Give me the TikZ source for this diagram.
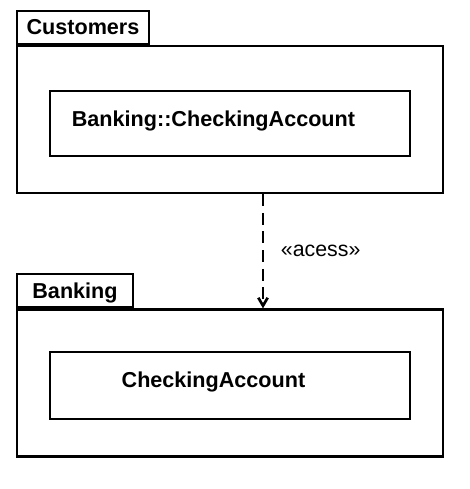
\documentclass[tikz,border=0pt]{standalone}
\usepackage{fontspec}
\setmainfont{Liberation Sans}
\usetikzlibrary{positioning}
\usetikzlibrary{arrows.meta}

\tikzset{
  pkgbody/.style={draw, line width=1.7pt, minimum width=319.5pt, minimum height=110.25pt, inner sep=0pt},
  pkgtab/.style={draw, line width=1.7pt, minimum height=24.75pt, inner sep=0pt, anchor=south west,
    font=\fontsize{16.2}{19}\selectfont\bfseries, text height=11.6pt, text depth=0pt},
  classbox/.style={draw, line width=1.8pt, minimum width=270pt, inner sep=0pt},
  classname/.style={font=\fontsize{16.2}{19}\selectfont\bfseries, text height=11.6pt, text depth=0pt, inner sep=0pt},
  depend/.style={line width=1.4pt, dash pattern=on 9pt off 5pt, -{Straight Barb[length=6pt,width=7pt,line width=2pt]}}
}

\begin{document}
\begin{tikzpicture}[x=0.75pt,y=-0.75pt]
   \useasboundingbox (0,0) rectangle (470,489);
   % packages
   \node[pkgbody] (cust) at (230,119.5) {};
   \node[pkgtab, minimum width=99pt] (custtab) at (cust.north west) {Customers};
   \node[pkgbody] (bank) at (230,383) {};
   \node[pkgtab, minimum width=87pt] (banktab) at (bank.north west) {Banking};
   % classes
   \node[classbox, minimum height=48.75pt,
     label={[classname, xshift=-12.4pt, yshift=3.4pt]center:Banking::CheckingAccount}] (custcls) at (230,123.5) {};
   \node[classbox, minimum height=50.25pt,
     label={[classname, xshift=-12.4pt, yshift=4pt]center:CheckingAccount}] (bankcls) at (230,385.5) {};
   % dependency
   \coordinate (depx) at (263,0);
   \draw[depend] (cust.south -| depx) -- node[midway, right=12.75pt, inner sep=0pt,
     font=\fontsize{16}{19}\selectfont] (acc) {«acess»} (bank.north -| depx);
\end{tikzpicture}
\end{document}
